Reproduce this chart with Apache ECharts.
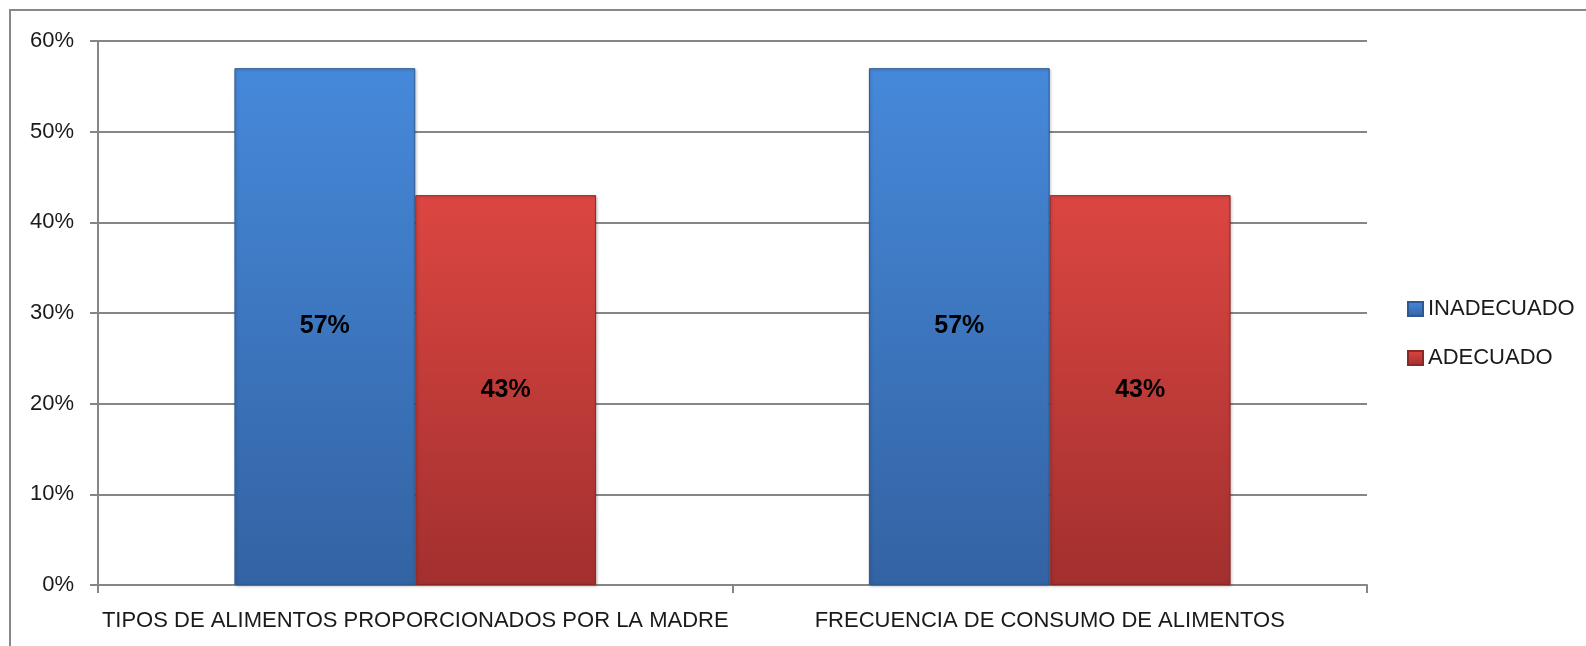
<!DOCTYPE html>
<html>
<head>
<meta charset="utf-8">
<script src="https://cdn.jsdelivr.net/npm/echarts@6/dist/echarts.min.js"></script>
<style>
    html, body { margin: 0; padding: 0; background: #fff; }
    #main { width: 1586px; height: 646px; }
</style>
</head>
<body>
<div id="main"></div>
<script>
// datos
var categorias = ["TIPOS DE ALIMENTOS PROPORCIONADOS POR LA MADRE", "FRECUENCIA DE CONSUMO DE ALIMENTOS"];
var inadecuado = [57, 57];
var adecuado = [43, 43];
var yTicks = [0, 10, 20, 30, 40, 50, 60];

var fuente = "'Liberation Sans', Arial, sans-serif";

function degradado(arriba, abajo) {
    return new echarts.graphic.LinearGradient(0, 0, 0, 1, [
        {offset: 0, color: arriba},
        {offset: 1, color: abajo}
    ]);
}

var etiqueta = {
    show: true,
    position: 'inside',
    formatter: '{c}%',
    fontSize: 25,
    fontWeight: 'bold',
    color: '#000',
    fontFamily: fuente
};

var myChart = echarts.init(document.getElementById('main'));
myChart.setOption({
    animation: false,
    backgroundColor: '#ffffff',
    textStyle: {fontFamily: fuente},
    graphic: [
        {
            type: 'rect',
            shape: {x: 10, y: 10, width: 1700, height: 800},
            style: {fill: 'none', stroke: '#888888', lineWidth: 2},
            silent: true
        }
    ],
    legend: {
        orient: 'vertical',
        left: 1402,
        top: 293,
        itemWidth: 15,
        itemHeight: 14,
        itemGap: 27,
        icon: 'rect',
        textStyle: {fontSize: 22, color: '#1a1a1a', fontFamily: fuente, padding: [0, 0, 0, 0]},
        data: ['INADECUADO', 'ADECUADO']
    },
    grid: {
        left: 98,
        right: 1586 - 1367,
        top: 41,
        bottom: 646 - 585,
        containLabel: false
    },
    xAxis: {
        type: 'category',
        data: categorias,
        axisLine: {lineStyle: {color: '#868686', width: 2}},
        axisTick: {show: true, length: 8, interval: 0, lineStyle: {color: '#868686', width: 2}},
        axisLabel: {
            margin: 25,
            fontSize: 22,
            color: '#1a1a1a',
            fontFamily: fuente,
            interval: 0
        }
    },
    yAxis: {
        type: 'value',
        min: yTicks[0],
        max: yTicks[yTicks.length - 1],
        interval: 10,
        axisLine: {show: true, lineStyle: {color: '#868686', width: 2}},
        axisTick: {show: true, length: 8, lineStyle: {color: '#868686', width: 2}},
        splitLine: {lineStyle: {color: '#868686', width: 2}},
        axisLabel: {
            margin: 24,
            fontSize: 22,
            color: '#1a1a1a',
            fontFamily: fuente,
            formatter: '{value}%'
        }
    },
    series: [
        {
            name: 'INADECUADO',
            type: 'bar',
            data: inadecuado,
            barGap: '0%',
            barCategoryGap: '43%',
            itemStyle: {
                color: degradado('#4689da', '#3363a3'),
                borderColor: '#2d5891',
                borderWidth: 1,
                shadowColor: 'rgba(0,0,0,0.25)',
                shadowBlur: 3,
                shadowOffsetX: 1,
                shadowOffsetY: 1
            },
            label: etiqueta
        },
        {
            name: 'ADECUADO',
            type: 'bar',
            data: adecuado,
            itemStyle: {
                color: degradado('#dc4642', '#a2302e'),
                borderColor: '#8a2826',
                borderWidth: 1,
                shadowColor: 'rgba(0,0,0,0.25)',
                shadowBlur: 3,
                shadowOffsetX: 1,
                shadowOffsetY: 1
            },
            label: etiqueta
        }
    ]
});
</script>
</body>
</html>
